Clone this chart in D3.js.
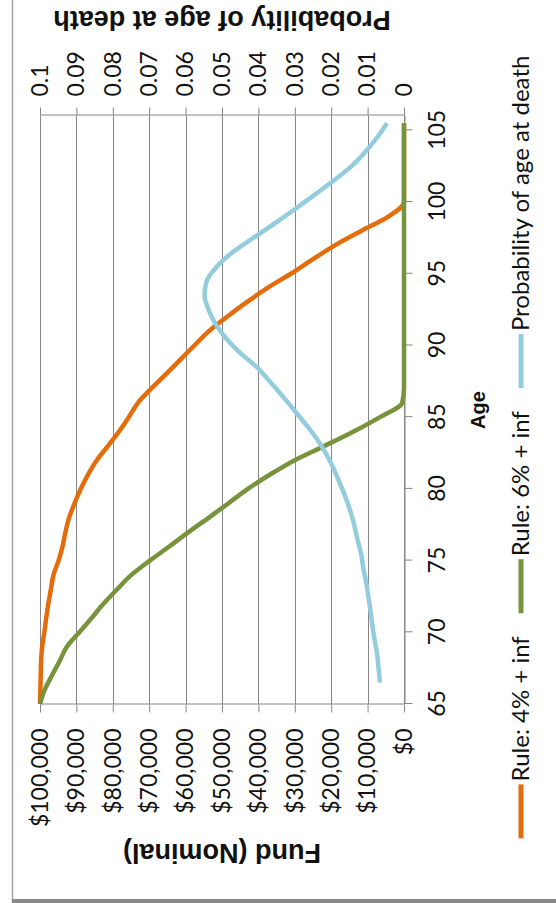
<!DOCTYPE html>
<html>
<head>
<meta charset="utf-8">
<script src="https://cdn.jsdelivr.net/npm/d3@7"></script>
<style>
  html, body { margin: 0; padding: 0; background: #fff; }
  svg { display: block; }
</style>
</head>
<body>
<svg id="chart" width="556" height="903"></svg>
<script>
// Ages for the two fund series (one point per year)
const fundAges = [65,66,67,68,69,70,71,72,73,74,75,76,77,78,79,80,81,82,83,84,85,
                  86,87,88,89,90,91,92,93,94,95,96,97,98,99,100,101,102,103,104,105,105.5];

// Fund remaining under the 4% + inflation rule
const rule4 = [100000,99900,99800,99700,99400,98800,98300,97700,97000,96300,94900,
               93800,93000,92000,90500,88800,86800,84400,81300,78300,75600,
               73100,69400,65400,61500,57600,53600,48600,43300,37600,31100,
               25100,18900,11700,4200,0,0,0,0,0,0,0];

// Fund remaining under the 6% + inflation rule
const rule6 = [100000,98700,96700,94600,92600,89200,85800,82500,78800,74900,69800,
               64400,59100,53600,48200,42900,36800,30000,21800,13800,6600,
               500,0,0,0,0,0,0,0,0,0,0,0,0,0,0,0,0,0,0,0,0];

// Probability of dying at each age
const probAges = [66.5,67.5,68.5,69.5,70.5,71.5,72.5,73.5,74.5,75.5,76.5,77.5,78.5,79.5,
                  80.5,81.5,82.5,83.5,84.5,85.5,86.5,87.5,88.5,89.5,90.5,91.5,92.5,93.5,
                  94.5,95.5,96.5,97.5,98.5,99.5,100.5,101.5,102.5,103.5,104.5,105.5];
const probDeath = [0.0066,0.0070,0.0074,0.0081,0.0087,0.0092,0.0098,0.0104,0.0112,0.0118,
                   0.0128,0.0137,0.0148,0.0162,0.0178,0.0195,0.0215,0.0240,0.0270,0.0302,
                   0.0335,0.0369,0.0405,0.0451,0.0489,0.0518,0.0537,0.0548,0.0542,0.0514,
                   0.0471,0.0414,0.0356,0.0300,0.0246,0.0193,0.0144,0.0106,0.0074,0.0047];

// Axis ticks
const ageTicks  = [65,70,75,80,85,90,95,100,105];
const fundTicks = [0,10000,20000,30000,40000,50000,60000,70000,80000,90000,100000];
const probTicks = [0,0.01,0.02,0.03,0.04,0.05,0.06,0.07,0.08,0.09,0.1];

const seriesNames  = ["Rule: 4% + inf", "Rule: 6% + inf", "Probability of age at death"];
const seriesColors = ["#E46C0A", "#77933C", "#93CDDD"];

const svg = d3.select("#chart");
const PAGE_W = 556, PAGE_H = 903;

// chart-area border (left edge and heavy bottom edge)
svg.append("line")
  .attr("x1", 12.5).attr("x2", 12.5).attr("y1", 0).attr("y2", PAGE_H)
  .attr("stroke", "#a3a3a3").attr("stroke-width", 1.5);
svg.append("rect")
  .attr("x", 12).attr("y", 899).attr("width", PAGE_W - 12).attr("height", 4)
  .attr("fill", "#8a8a8a");

// The chart is laid out landscape (age running left to right) and turned a quarter turn
const g = svg.append("g").attr("transform", `translate(0,${PAGE_H}) rotate(-90)`);

const plot = { left: 199, right: 787, top: 40, bottom: 404 };
const x = d3.scaleLinear().domain([65, 106]).range([plot.left, plot.right]);
const yFund = d3.scaleLinear().domain([0, 100000]).range([plot.bottom, plot.top]);
const yProb = d3.scaleLinear().domain([0, 0.1]).range([plot.bottom, plot.top]);

const AXIS_COLOR = "#868686";
const TICK_FONT = "Lato, 'Open Sans', sans-serif";
const TITLE_FONT = "'Liberation Sans', Arial, sans-serif";

// horizontal gridlines on the fund scale
g.append("g").selectAll("line").data(fundTicks).join("line")
  .attr("x1", plot.left).attr("x2", plot.right)
  .attr("y1", d => Math.round(yFund(d)) + 0.5).attr("y2", d => Math.round(yFund(d)) + 0.5)
  .attr("stroke", AXIS_COLOR).attr("stroke-width", 1);

function styleAxis(sel) {
  sel.attr("font-family", TICK_FONT).attr("font-size", 23);
  sel.select(".domain").attr("stroke", AXIS_COLOR).attr("stroke-width", 1);
  sel.selectAll(".tick line").attr("stroke", AXIS_COLOR).attr("stroke-width", 1);
  sel.selectAll(".tick text").attr("fill", "#111");
}

// left value axis: fund
g.append("g")
  .attr("transform", `translate(${plot.left - 0.5},0)`)
  .call(d3.axisLeft(yFund).tickValues(fundTicks).tickFormat(d3.format("$,"))
        .tickSizeInner(8).tickSizeOuter(0).tickPadding(16))
  .call(styleAxis);

// right value axis: probability
g.append("g")
  .attr("transform", `translate(${plot.right + 0.5},0)`)
  .call(d3.axisRight(yProb).tickValues(probTicks).tickFormat(d => String(d))
        .tickSizeInner(8).tickSizeOuter(0).tickPadding(11))
  .call(styleAxis);

// category axis: age
g.append("g")
  .attr("transform", `translate(0,${plot.bottom + 0.5})`)
  .call(d3.axisBottom(x).tickValues(ageTicks)
        .tickSizeInner(8).tickSizeOuter(0).tickPadding(16))
  .call(styleAxis);

// series lines
const fundLine = d3.line().curve(d3.curveMonotoneX).x(d => x(d[0])).y(d => yFund(d[1]));
const probLine = d3.line().curve(d3.curveMonotoneX).x(d => x(d[0])).y(d => yProb(d[1]));

const lines = [
  { path: fundLine(d3.zip(fundAges, rule4)), color: seriesColors[0] },
  { path: fundLine(d3.zip(fundAges, rule6)), color: seriesColors[1] },
  { path: probLine(d3.zip(probAges, probDeath)), color: seriesColors[2] }
];
g.append("g").selectAll("path").data(lines).join("path")
  .attr("d", d => d.path)
  .attr("fill", "none")
  .attr("stroke", d => d.color)
  .attr("stroke-width", 4.5)
  .attr("stroke-linejoin", "round");

// axis titles
const midV = (plot.top + plot.bottom) / 2;
g.append("text")
  .attr("transform", `translate(59.5,${midV}) rotate(-90)`)
  .attr("text-anchor", "middle")
  .attr("font-family", TITLE_FONT).attr("font-weight", "bold").attr("font-size", 27)
  .attr("fill", "#111")
  .text("Fund (Nominal)");

g.append("text")
  .attr("transform", `translate(892,${midV}) rotate(-90)`)
  .attr("text-anchor", "middle")
  .attr("font-family", TITLE_FONT).attr("font-weight", "bold").attr("font-size", 27)
  .attr("fill", "#111")
  .text("Probability of age at death");

g.append("text")
  .attr("x", (plot.left + plot.right) / 2).attr("y", 485)
  .attr("text-anchor", "middle")
  .attr("font-family", TITLE_FONT).attr("font-weight", "bold").attr("font-size", 20)
  .attr("fill", "#111")
  .text("Age");

// legend along the bottom
const legend = g.append("g");
const LEG_V = 521, SWATCH = 54, SW_GAP = 3, ITEM_GAP = 23;
const items = seriesNames.map((name, i) => {
  const it = legend.append("g");
  it.append("line")
    .attr("x1", 0).attr("x2", SWATCH).attr("y1", LEG_V).attr("y2", LEG_V)
    .attr("stroke", seriesColors[i]).attr("stroke-width", 5);
  const t = it.append("text")
    .attr("x", SWATCH + SW_GAP).attr("y", LEG_V).attr("dy", "0.35em")
    .attr("font-family", TICK_FONT).attr("font-size", 24).attr("fill", "#111")
    .text(name);
  return { g: it, w: SWATCH + SW_GAP + t.node().getComputedTextLength() };
});
const total = d3.sum(items, d => d.w) + ITEM_GAP * (items.length - 1);
let pos = 456 - total / 2;
items.forEach(d => { d.g.attr("transform", `translate(${pos},0)`); pos += d.w + ITEM_GAP; });
</script>
</body>
</html>
